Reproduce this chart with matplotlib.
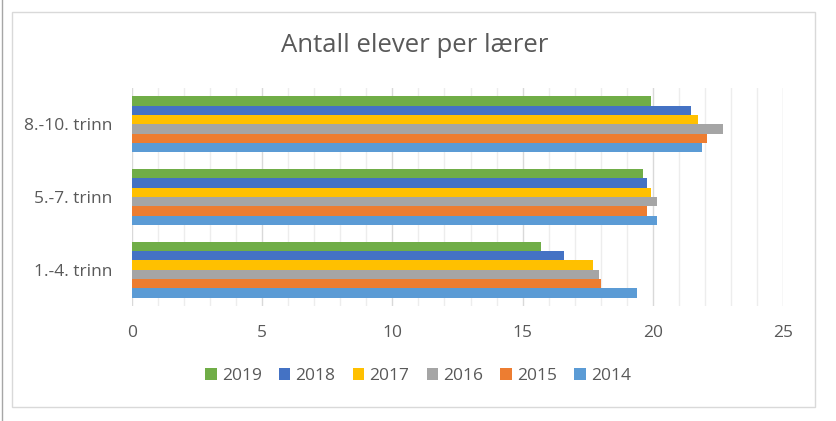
import numpy as np
import matplotlib.pyplot as plt
from matplotlib.patches import Rectangle
from matplotlib.lines import Line2D

# data
categories = ["1.-4. trinn", "5.-7. trinn", "8.-10. trinn"]
years = ["2014", "2015", "2016", "2017", "2018", "2019"]
v2014 = [19.38, 20.15, 21.88]
v2015 = [18.00, 19.77, 22.08]
v2016 = [17.92, 20.15, 22.68]
v2017 = [17.70, 19.92, 21.73]
v2018 = [16.58, 19.77, 21.47]
v2019 = [15.70, 19.62, 19.92]
series = [v2014, v2015, v2016, v2017, v2018, v2019]
colors = ["#5B9BD5", "#ED7D31", "#A5A5A5", "#FFC000", "#4472C4", "#70AD47"]

plt.rcParams["font.family"] = ["Open Sans", "DejaVu Sans"]
txt = "#595959"

fig = plt.figure(figsize=(8.36, 4.21), dpi=100)
ax = fig.add_axes([132 / 836, 1 - 306 / 421, (783 - 132) / 836, (306 - 88) / 421])

y = np.arange(len(categories))
group = 0.767
h = group / len(series)
handles = []
for j, (vals, c) in enumerate(zip(series, colors)):
    pos = y - group / 2 + h / 2 + j * h
    b = ax.barh(pos, vals, height=h, color=c, zorder=3)
    handles.append(b)

ax.set_xlim(0, 25)
ax.set_ylim(-0.5, 2.5)
ax.set_xticks(np.arange(0, 26, 5))
ax.set_xticks(np.arange(0, 26, 1), minor=True)
ax.grid(axis="x", which="major", color="#D9D9D9", linewidth=1, zorder=0)
ax.grid(axis="x", which="minor", color="#EDEDED", linewidth=1, zorder=0)
ax.set_yticks(y)
ax.set_yticklabels(categories)
ax.tick_params(axis="both", which="both", length=0, labelsize=12.5, colors=txt)
ax.tick_params(axis="x", pad=14)
ax.tick_params(axis="y", pad=14)
for s in ax.spines.values():
    s.set_visible(False)

fig.text(415 / 836, 1 - 45 / 421, "Antall elever per lærer", ha="center", va="center",
         fontsize=18.5, color=txt)

fig.legend(handles[::-1], years[::-1], loc="center", bbox_to_anchor=(418 / 836, 1 - 376 / 421),
           ncol=6, frameon=False, fontsize=12.5, labelcolor=txt, handlelength=0.65,
           handleheight=0.65, handletextpad=0.3, columnspacing=1.0)

fig.add_artist(Rectangle((12 / 836, 1 - 407 / 421), (815 - 12) / 836, (407 - 12) / 421,
                         transform=fig.transFigure, fill=False, edgecolor="#D9D9D9", linewidth=1))
fig.add_artist(Line2D([1.5 / 836, 1.5 / 836], [0, 1], transform=fig.transFigure,
                      color="#A6A6A6", linewidth=1))

fig.savefig("out.png", dpi=100)
